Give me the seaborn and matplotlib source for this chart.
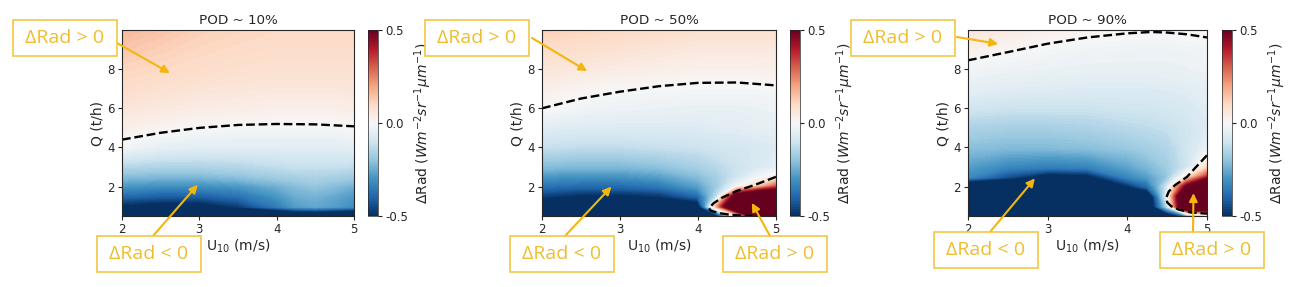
import numpy as np
import matplotlib
matplotlib.use("Agg")
import matplotlib.pyplot as plt
import matplotlib.patches as mpatches
from matplotlib.colors import Normalize
from matplotlib.cm import ScalarMappable
import seaborn as sns

# grid of the simulations
U10 = [2.0, 2.5, 3.0, 3.5, 4.0, 4.25, 4.5, 4.75, 5.0]
Q = [0.5, 1.0, 1.5, 2.0, 2.5, 3.0, 4.0, 5.0, 6.0, 7.0, 8.0, 9.0, 10.0]

# delta radiance, one row per Q value
drad_10 = [
    [-0.90, -0.90, -0.90, -0.90, -0.80, -0.75, -0.75, -0.78, -0.80],
    [-0.52, -0.55, -0.55, -0.48, -0.35, -0.28, -0.26, -0.28, -0.32],
    [-0.40, -0.42, -0.42, -0.38, -0.30, -0.25, -0.24, -0.26, -0.29],
    [-0.30, -0.32, -0.32, -0.30, -0.25, -0.22, -0.20, -0.22, -0.25],
    [-0.22, -0.23, -0.23, -0.21, -0.18, -0.17, -0.16, -0.17, -0.18],
    [-0.15, -0.16, -0.16, -0.15, -0.13, -0.12, -0.12, -0.12, -0.13],
    [-0.02, -0.05, -0.06, -0.06, -0.06, -0.06, -0.06, -0.06, -0.05],
    [0.03, 0.01, 0.00, -0.01, -0.01, -0.01, -0.01, -0.01, -0.005],
    [0.06, 0.05, 0.04, 0.035, 0.03, 0.03, 0.03, 0.03, 0.035],
    [0.09, 0.075, 0.065, 0.06, 0.055, 0.055, 0.055, 0.055, 0.06],
    [0.11, 0.10, 0.09, 0.08, 0.075, 0.075, 0.075, 0.075, 0.075],
    [0.135, 0.12, 0.105, 0.095, 0.09, 0.09, 0.09, 0.09, 0.09],
    [0.16, 0.14, 0.12, 0.11, 0.10, 0.10, 0.10, 0.10, 0.10],
]
drad_50 = [
    [-0.90, -0.90, -0.90, -0.90, -0.80, -0.60, -0.05, 0.60, 0.80],
    [-0.70, -0.75, -0.75, -0.70, -0.60, 0.20, 0.90, 0.90, 0.90],
    [-0.48, -0.52, -0.52, -0.50, -0.40, -0.12, 0.60, 0.80, 0.80],
    [-0.38, -0.40, -0.40, -0.37, -0.28, -0.18, -0.02, 0.10, 0.30],
    [-0.30, -0.31, -0.31, -0.28, -0.22, -0.17, -0.10, -0.03, 0.02],
    [-0.22, -0.23, -0.23, -0.21, -0.17, -0.14, -0.11, -0.08, -0.05],
    [-0.12, -0.13, -0.13, -0.12, -0.11, -0.10, -0.09, -0.08, -0.07],
    [-0.06, -0.07, -0.07, -0.07, -0.07, -0.06, -0.06, -0.05, -0.05],
    [0.00, -0.02, -0.03, -0.035, -0.04, -0.04, -0.04, -0.035, -0.03],
    [0.03, 0.01, 0.00, -0.005, -0.01, -0.01, -0.01, -0.01, -0.005],
    [0.06, 0.05, 0.04, 0.03, 0.025, 0.025, 0.025, 0.025, 0.03],
    [0.09, 0.08, 0.07, 0.06, 0.05, 0.05, 0.05, 0.05, 0.05],
    [0.12, 0.11, 0.10, 0.09, 0.08, 0.08, 0.08, 0.08, 0.08],
]
drad_90 = [
    [-0.90, -0.90, -0.90, -0.90, -0.90, -0.85, -0.70, -0.40, -0.20],
    [-0.90, -0.90, -0.90, -0.90, -0.85, -0.70, -0.15, 0.90, 0.90],
    [-0.90, -0.90, -0.90, -0.90, -0.75, -0.70, -0.05, 0.90, 0.90],
    [-0.75, -0.80, -0.85, -0.80, -0.52, -0.40, -0.10, 0.50, 0.80],
    [-0.32, -0.45, -0.58, -0.55, -0.33, -0.28, -0.20, 0.05, 0.35],
    [-0.28, -0.33, -0.35, -0.34, -0.27, -0.23, -0.18, -0.10, 0.08],
    [-0.21, -0.22, -0.22, -0.21, -0.19, -0.17, -0.15, -0.10, -0.04],
    [-0.16, -0.17, -0.17, -0.16, -0.14, -0.13, -0.12, -0.10, -0.07],
    [-0.10, -0.11, -0.11, -0.11, -0.10, -0.10, -0.09, -0.08, -0.06],
    [-0.05, -0.06, -0.065, -0.07, -0.07, -0.07, -0.065, -0.06, -0.05],
    [-0.02, -0.03, -0.035, -0.04, -0.04, -0.04, -0.04, -0.035, -0.03],
    [0.025, 0.005, -0.01, -0.02, -0.025, -0.026, -0.026, -0.024, -0.02],
    [0.06, 0.045, 0.025, 0.012, 0.005, 0.004, 0.004, 0.008, 0.012],
]

# zero lines (dRad = 0)
zero_10_u = [2.0, 2.5, 3.0, 3.5, 4.0, 4.5, 5.0]
zero_10_q = [4.4, 4.75, 5.0, 5.15, 5.2, 5.18, 5.08]
zero_50_u = [2.0, 2.5, 3.0, 3.5, 4.0, 4.5, 5.0]
zero_50_q = [6.0, 6.5, 6.85, 7.13, 7.3, 7.32, 7.17]
lobe_50_u = [5.0, 4.75, 4.5, 4.3, 4.2, 4.14, 4.16, 4.25, 4.4, 4.55, 4.7]
lobe_50_q = [2.5, 2.12, 1.78, 1.42, 1.15, 0.9, 0.78, 0.66, 0.57, 0.52, 0.5]
zero_90_u = [2.0, 2.5, 3.0, 3.5, 4.0, 4.3, 4.5, 4.75, 5.0]
zero_90_q = [8.45, 8.87, 9.3, 9.62, 9.83, 9.9, 9.87, 9.78, 9.62]
lobe_90_u = [5.0, 4.85, 4.75, 4.6, 4.52, 4.49, 4.5, 4.55, 4.65, 4.8, 5.0]
lobe_90_q = [3.6, 2.95, 2.5, 2.08, 1.75, 1.45, 1.2, 1.0, 0.82, 0.68, 0.62]

titles = ["POD ~ 10%", "POD ~ 50%", "POD ~ 90%"]

sns.set_style("ticks")
plt.rcParams["font.family"] = ["DejaVu Sans"]
plt.rcParams["axes.unicode_minus"] = False

W, H = 1290, 287
fig = plt.figure(figsize=(W / 100, H / 100), dpi=100)

# axes / colorbar boxes in pixels: left, right, colorbar left
ax_px = [(122, 354, 368), (542, 776, 790), (968, 1207, 1222)]
top_px, bot_px = 30, 216

norm = Normalize(-0.5, 0.5)
cmap = "RdBu_r"
fields = [drad_10, drad_50, drad_90]
lines = [
    [(zero_10_u, zero_10_q)],
    [(zero_50_u, zero_50_q), (lobe_50_u, lobe_50_q)],
    [(zero_90_u, zero_90_q), (lobe_90_u, lobe_90_q)],
]

axes = []
for i in range(3):
    l, r, c = ax_px[i]
    ax = fig.add_axes([l / W, 1 - bot_px / H, (r - l) / W, (bot_px - top_px) / H])
    cs = ax.contourf(U10, Q, np.array(fields[i]), levels=np.linspace(-0.5, 0.5, 121),
                     cmap=cmap, extend="both")
    cs.set_edgecolor("face")
    for lu, lq in lines[i]:
        ax.plot(lu, lq, color="black", ls="--", lw=1.7)
    ax.set_xlim(2, 5)
    ax.set_ylim(0.5, 10)
    ax.set_xticks([2, 3, 4, 5])
    ax.set_yticks([2, 4, 6, 8])
    ax.tick_params(labelsize=8.5, length=3, pad=2)
    ax.set_xlabel(r"U$_{10}$ (m/s)", fontsize=10, labelpad=1)
    ax.set_ylabel("Q (t/h)", fontsize=10, labelpad=2)
    ax.set_title(titles[i], fontsize=9.7, pad=4)

    cax = fig.add_axes([c / W, 1 - bot_px / H, 10 / W, (bot_px - top_px) / H])
    cb = fig.colorbar(ScalarMappable(norm=norm, cmap=cmap), cax=cax, ticks=[-0.5, 0.0, 0.5])
    cb.ax.set_yticklabels(["-0.5", "0.0", "0.5"])
    cb.ax.tick_params(labelsize=8.5, length=3, pad=2)
    cb.outline.set_linewidth(0.5)
    cb.set_label(r"$\Delta$Rad ($Wm^{-2}sr^{-1}\mu m^{-1}$)", fontsize=10, labelpad=3)
    axes.append(ax)

# annotation boxes: center px, text, axes index, arrow tail px, arrow head (u, q)
box_txt_col = "#EFBD2D"
box_edge_col = "#F3C646"
arrow_col = "#F4B60C"
notes = [
    ((65, 38), "ΔRad > 0", 0, (117, 43), (2.62, 7.8)),
    ((149, 254), "ΔRad < 0", 0, (153, 236), (2.98, 2.1)),
    ((477, 38), "ΔRad > 0", 1, (532, 38), (2.58, 7.9)),
    ((562, 254), "ΔRad < 0", 1, (565, 236), (2.89, 2.0)),
    ((775, 254), "ΔRad > 0", 1, (770, 236), (4.69, 1.17)),
    ((903, 38), "ΔRad > 0", 2, (957, 37), (2.38, 9.29)),
    ((986, 250), "ΔRad < 0", 2, (990, 232), (2.84, 2.42)),
    ((1212, 250), "ΔRad > 0", 2, (1193, 232), (4.83, 1.67)),
]
bw, bh = 104, 36
for (cx, cy), txt, k, tail, head in notes:
    rect = mpatches.Rectangle(((cx - bw / 2) / W, 1 - (cy + bh / 2) / H), bw / W, bh / H,
                              transform=fig.transFigure, facecolor="white",
                              edgecolor=box_edge_col, lw=1.2, zorder=5)
    fig.add_artist(rect)
    fig.text(cx / W, 1 - cy / H, txt, ha="center", va="center", fontsize=14,
             color=box_txt_col, family=["Open Sans", "DejaVu Sans"], zorder=6)
    axes[k].annotate("", xy=head, xycoords="data",
                     xytext=(tail[0] / W, 1 - tail[1] / H), textcoords="figure fraction",
                     arrowprops=dict(arrowstyle="-|>", color=arrow_col, lw=1.5,
                                     mutation_scale=12, shrinkA=0, shrinkB=0),
                     annotation_clip=False)

fig.savefig("out.png", dpi=100)
